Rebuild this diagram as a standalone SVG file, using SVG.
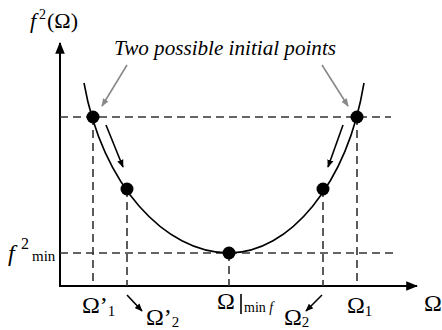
<svg xmlns="http://www.w3.org/2000/svg" width="442" height="330" viewBox="0 0 442 330">
<defs>
<marker id="ab" viewBox="0 0 10 10" refX="9" refY="5" markerWidth="8" markerHeight="8" orient="auto" markerUnits="userSpaceOnUse"><path d="M0,1 L10,5 L0,9 z" fill="#000"/></marker>
<marker id="ag" viewBox="0 0 10 10" refX="9" refY="5" markerWidth="8" markerHeight="8" orient="auto" markerUnits="userSpaceOnUse"><path d="M0,1 L10,5 L0,9 z" fill="#888"/></marker>
<marker id="ax" viewBox="0 0 10 10" refX="9" refY="5" markerWidth="12" markerHeight="12" orient="auto" markerUnits="userSpaceOnUse"><path d="M0,1 L10,5 L0,9 z" fill="#000"/></marker>
</defs>
<style>
.dash{stroke:#333;stroke-width:1.6;stroke-dasharray:8,5;fill:none}
.ax{stroke:#000;stroke-width:2;fill:none}
.bk{stroke:#000;stroke-width:1.6;fill:none}
.gr{stroke:#888;stroke-width:1.6;fill:none}
.dot{fill:#000}
</style>
<g id="axes">
<line class="ax" x1="60" y1="287" x2="60" y2="43" marker-end="url(#ax)"/>
<line class="ax" x1="59" y1="286" x2="417" y2="286" marker-end="url(#ax)"/>
</g>
<g id="guides">
<line class="dash" x1="60" y1="117" x2="391" y2="117"/>
<line class="dash" x1="60" y1="253" x2="393" y2="253"/>
<line class="dash" x1="93" y1="117" x2="93" y2="286"/>
<line class="dash" x1="127" y1="189" x2="127" y2="286"/>
<line class="dash" x1="229" y1="253" x2="229" y2="286"/>
<line class="dash" x1="323" y1="189" x2="323" y2="286"/>
<line class="dash" x1="357" y1="117" x2="357" y2="286"/>
</g>
<g id="curve">
<path class="bk" d="M84,83 C102,185 165,253 229,253 C289,253 347,185 364,83"/>
</g>
<g id="connectors">
<line class="bk" x1="106" y1="125" x2="123" y2="167" marker-end="url(#ab)"/>
<line class="bk" x1="343" y1="125" x2="328" y2="167" marker-end="url(#ab)"/>
<line class="gr" x1="127" y1="65" x2="102" y2="106" marker-end="url(#ag)"/>
<line class="gr" x1="322" y1="65" x2="348" y2="106" marker-end="url(#ag)"/>
<line class="bk" x1="127" y1="295" x2="142" y2="311" marker-end="url(#ab)"/>
<line class="bk" x1="322" y1="295" x2="306" y2="311" marker-end="url(#ab)"/>
</g>
<g id="p1"><circle class="dot" cx="93" cy="117" r="6.5"/></g>
<g id="p2"><circle class="dot" cx="127" cy="189" r="6.5"/></g>
<g id="p3"><circle class="dot" cx="229" cy="253" r="6.5"/></g>
<g id="p4"><circle class="dot" cx="323" cy="189" r="6.5"/></g>
<g id="p5"><circle class="dot" cx="357" cy="117" r="6.5"/></g>
<g id="labels" font-family="Liberation Serif, DejaVu Serif, Times New Roman, serif" fill="#000">
<text x="114" y="55" font-size="20" font-style="italic" textLength="222" lengthAdjust="spacingAndGlyphs">Two possible initial points</text>
<text x="30" y="28" font-size="22"><tspan font-style="italic">f</tspan><tspan x="39" font-size="14" dy="-9">2</tspan><tspan x="47" dy="9">(Ω)</tspan></text>
<text x="8" y="261" font-size="24"><tspan font-style="italic">f</tspan><tspan x="21" font-size="16" dy="-12">2</tspan><tspan x="32" font-size="15" dy="12">min</tspan></text>
<text x="82" y="313" font-size="24">Ω’<tspan font-size="15" dy="3">1</tspan></text>
<text x="146" y="325" font-size="24">Ω’<tspan font-size="15" dy="2">2</tspan></text>
<text x="217" y="309" font-size="24">Ω</text>
<line class="bk" x1="241" y1="294" x2="241" y2="314" stroke-width="1.2"/>
<text x="244" y="312" font-size="14">min <tspan font-style="italic">f</tspan></text>
<text x="284" y="325" font-size="24">Ω<tspan font-size="15" dy="2">2</tspan></text>
<text x="347" y="313" font-size="24">Ω<tspan font-size="15" dy="3">1</tspan></text>
<text x="424" y="311" font-size="24">Ω</text>
</g>
</svg>
